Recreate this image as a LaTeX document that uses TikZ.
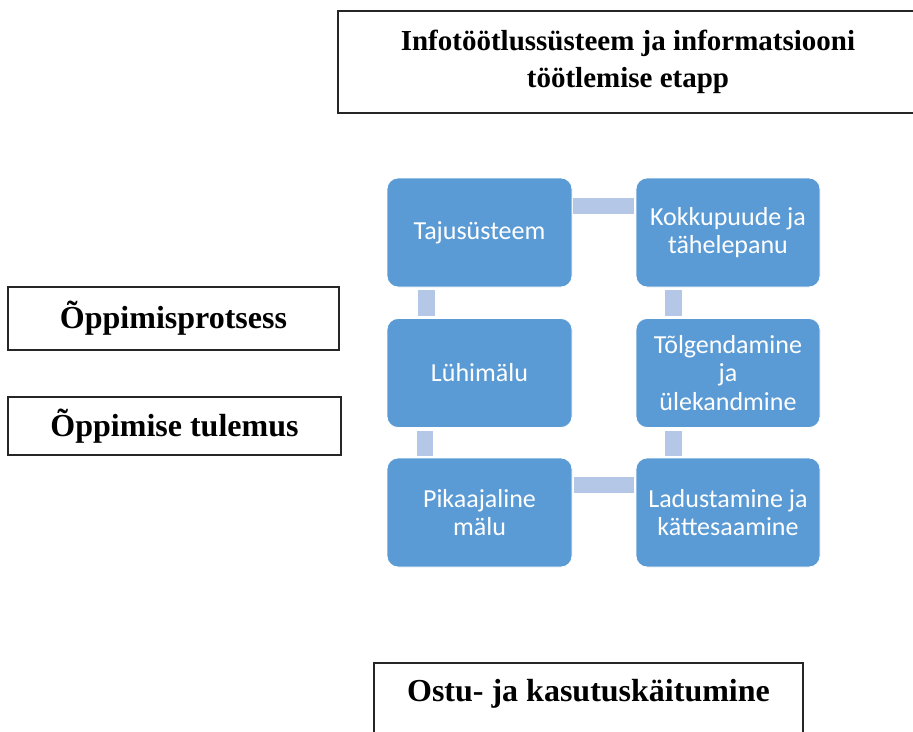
\documentclass[tikz,border=0pt]{standalone}
\usepackage{fontspec}
\setmainfont{Liberation Serif}
\newfontfamily\smartfont{Carlito}
\usetikzlibrary{calc}
\definecolor{boxblue}{HTML}{5B9BD5}
\definecolor{connblue}{HTML}{B4C7E7}
\begin{document}
\begin{tikzpicture}[x=1pt,y=-1pt,
  blackbox/.style={draw=black!85, line width=1.6pt, fill=white, inner sep=0pt, align=center,
     font=\bfseries\fontsize{32}{38}\selectfont},
  titletext/.style={font=\bfseries\fontsize{29}{37}\selectfont, align=center, inner sep=0pt},
  bluebox/.style={draw=white, line width=0.8pt, fill=boxblue, rounded corners=11pt,
     minimum height=109pt, text=white, align=center, inner sep=0pt,
     font=\smartfont\fontsize{26}{28.5}\selectfont},
  conn/.style={fill=connblue, draw=none}]
\useasboundingbox (0,0) rectangle (913,731);
\clip (0,0) rectangle (913,731);
\fill[white] (0,0) rectangle (913,731);

% title box (runs past the right edge)
\node[blackbox, minimum width=600pt, minimum height=102pt, anchor=north west] (title) at (337,10) {};
\node[titletext] (titletxt) at (628,61.5) {Infotöötlussüsteem ja informatsiooni\\töötlemise etapp};

% left boxes
\node[blackbox, minimum width=331pt, minimum height=63pt] (protsess) at (173.5,318.5) {Õppimisprotsess};
\node[blackbox, minimum width=333pt, minimum height=58pt] (tulemus) at (174.5,426) {Õppimise tulemus};

% bottom box (runs past the bottom edge)
\node[blackbox, minimum width=429pt, minimum height=90pt, anchor=north] (ostu) at (588.5,662) {};
\node[font=\bfseries\fontsize{32}{38}\selectfont, anchor=base, inner sep=0pt] (ostutxt) at ($(ostu.north)+(0,39)$) {Ostu- ja kasutuskäitumine};

% SmartArt boxes
\node[bluebox, minimum width=185pt] (taju) at (479.5,232.5) {Tajusüsteem};
\node[bluebox, minimum width=184pt] (kokk) at (728,232.5) {Kokkupuude ja\\tähelepanu};
\node[bluebox, minimum width=185pt] (lyhi) at (479.5,373) {Lühimälu};
\node[bluebox, minimum width=184pt] (tolg) at (728,373) {Tõlgendamine\\ja\\ülekandmine};
\node[bluebox, minimum width=185pt] (pika) at (479.5,512.5) {Pikaajaline\\mälu};
\node[bluebox, minimum width=184pt] (ladu) at (728,512.5) {Ladustamine ja\\kättesaamine};

% connectors
\fill[conn] ($(taju.north east)+(1,20)$) rectangle ($(kokk.north west)+(-2,36)$);
\fill[conn] ($(kokk.south west)+(29,3)$) rectangle ($(tolg.north west)+(46,-2)$);
\fill[conn] ($(tolg.south west)+(29,3)$) rectangle ($(ladu.north west)+(46,-2)$);
\fill[conn] ($(pika.north east)+(2,19)$) rectangle ($(ladu.north west)+(-2,35)$);
\fill[conn] ($(lyhi.south west)+(30,3)$) rectangle ($(pika.north west)+(46,-2)$);
\fill[conn] ($(taju.south west)+(31,3)$) rectangle ($(lyhi.north west)+(48,-2)$);
\end{tikzpicture}
\end{document}
